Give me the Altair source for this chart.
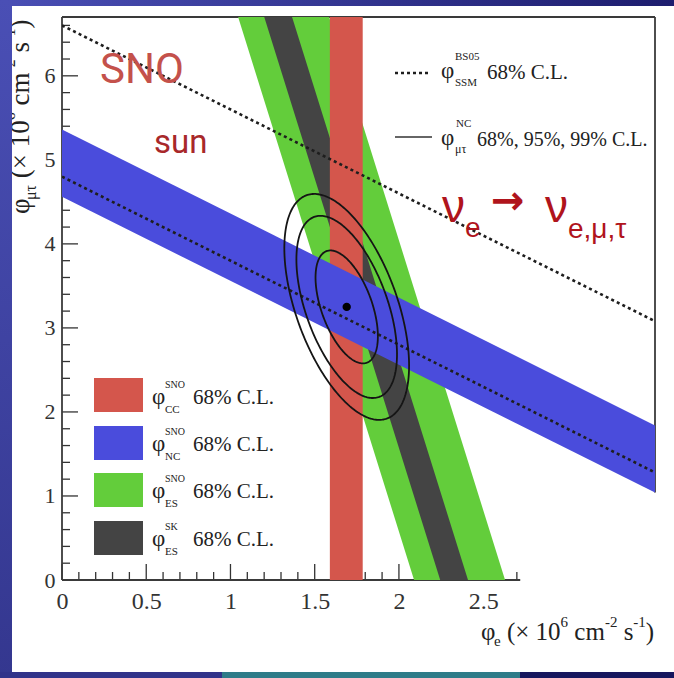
import math
import altair as alt
import numpy as np
import pandas as pd

# ---------------- data ----------------
X_LABEL_VALUES = [0, 0.5, 1, 1.5, 2, 2.5]
Y_LABEL_VALUES = [0, 1, 2, 3, 4, 5, 6]
X_MAX = 3.52
Y_MAX = 6.70
X_AXIS_END = 2.72

CC_BAND = [1.59, 1.785]          # phi_CC (SNO) 68% C.L. on phi_e
NC_BAND = [4.56, 5.36]           # phi_NC (SNO) 68% C.L. : phi_e + phi_mutau
ES_SNO_BAND = [2.09, 2.63]       # phi_ES (SNO) : phi_e + w*phi_mutau
ES_SK_BAND = [2.245, 2.41]       # phi_ES (SK)
SSM_BOUNDS = [4.80, 6.60]        # BS05 SSM 68% C.L.
ES_MUTAU_WEIGHT = 0.1559
BEST_FIT = [1.69, 3.25]
FIT_SIGMA = [0.122, 0.443]
FIT_RHO = -0.52
CL_DCHI2 = [2.30, 5.99, 9.21]    # 68%, 95%, 99% C.L.

LEGEND_SUP = ["SNO", "SNO", "SNO", "SK"]
LEGEND_SUB = ["CC", "NC", "ES", "ES"]
BAND_COLORS = ["#d4564c", "#4a4cdc", "#63cd3b", "#444444"]

# ---------------- layout ----------------
W, H = 593, 563
OX, OY = 62, 17
SERIF = "'Liberation Serif', 'Times New Roman', Times, serif"


def px2x(ax):
    return (ax - OX) / W * X_MAX


def py2y(ay):
    return (OY + H - ay) / H * Y_MAX


xs = alt.Scale(domain=[0, X_MAX], nice=False, zero=False)
ys = alt.Scale(domain=[0, Y_MAX], nice=False, zero=False)
x_axis = alt.Axis(values=X_LABEL_VALUES, labelExpr="'' + datum.value", ticks=False, domain=False,
                  grid=False, labelFont=SERIF, labelFontSize=24, labelColor="#333333",
                  labelPadding=9, labelFlush=False, labelOverlap=False)
y_axis = alt.Axis(values=Y_LABEL_VALUES, labelExpr="'' + datum.value", ticks=False, domain=False,
                  grid=False, labelFont=SERIF, labelFontSize=22, labelColor="#333333",
                  labelPadding=7, labelFlush=False, labelOverlap=False)


def X(f):
    return alt.X(f, type="quantitative", scale=xs, axis=x_axis, title=None)


def Y(f):
    return alt.Y(f, type="quantitative", scale=ys, axis=y_axis, title=None)


layers = []

# ---- ticks (inward) ----
xmaj = pd.DataFrame({"x": X_LABEL_VALUES, "y0": 0.0})
xmin_vals = [round(0.1 * i, 1) for i in range(0, 28) if i % 5 != 0]
xmin = pd.DataFrame({"x": xmin_vals, "y0": 0.0})
ymaj = pd.DataFrame({"y": Y_LABEL_VALUES, "x0": 0.0})
ymin_vals = [round(0.2 * i, 1) for i in range(0, 34) if i % 5 != 0]
ymin = pd.DataFrame({"y": ymin_vals, "x0": 0.0})
for df, ln in [(xmaj, 16), (xmin, 8)]:
    layers.append(alt.Chart(df).mark_rule(color="#333333", strokeWidth=1.3, y2Offset=-ln)
                  .encode(x=X("x"), y=Y("y0"), y2=alt.Y2("y0")))
for df, ln in [(ymaj, 16), (ymin, 8)]:
    layers.append(alt.Chart(df).mark_rule(color="#333333", strokeWidth=1.3, x2Offset=ln)
                  .encode(y=Y("y"), x=X("x0"), x2=alt.X2("x0")))

# ---- frame ----
frame = pd.DataFrame({
    "x": [0, 0, X_MAX, 0],
    "x2": [0, X_MAX, X_MAX, X_AXIS_END],
    "y": [0, Y_MAX, NC_BAND[0] - X_MAX, 0],
    "y2": [Y_MAX, Y_MAX, Y_MAX, 0],
})
layers.append(alt.Chart(frame).mark_rule(color="#3a3a3a", strokeWidth=1.8)
              .encode(x=X("x"), x2=alt.X2("x2"), y=Y("y"), y2=alt.Y2("y2")))

# ---- ES bands (steep) ----
yy = [0.0, Y_MAX]
for band, col in [(ES_SNO_BAND, BAND_COLORS[2]), (ES_SK_BAND, BAND_COLORS[3])]:
    df = pd.DataFrame({"y": yy,
                       "lo": [band[0] - ES_MUTAU_WEIGHT * v for v in yy],
                       "hi": [band[1] - ES_MUTAU_WEIGHT * v for v in yy]})
    layers.append(alt.Chart(df).mark_area(orient="horizontal", color=col, clip=True)
                  .encode(y=Y("y"), x=X("lo"), x2=alt.X2("hi")))

# ---- CC band ----
cc = pd.DataFrame({"lo": [CC_BAND[0]], "hi": [CC_BAND[1]], "y0": [0.0], "y1": [Y_MAX]})
layers.append(alt.Chart(cc).mark_rect(color=BAND_COLORS[0])
              .encode(x=X("lo"), x2=alt.X2("hi"), y=Y("y0"), y2=alt.Y2("y1")))

# ---- NC band ----
xx = [0.0, X_MAX]
nc = pd.DataFrame({"x": xx, "lo": [NC_BAND[0] - v for v in xx], "hi": [NC_BAND[1] - v for v in xx]})
layers.append(alt.Chart(nc).mark_area(color=BAND_COLORS[1], clip=True)
              .encode(x=X("x"), y=Y("lo"), y2=alt.Y2("hi")))

# ---- SSM dotted lines ----
ssm = pd.DataFrame({"x": xx * 2, "y": [SSM_BOUNDS[0] - v for v in xx] + [SSM_BOUNDS[1] - v for v in xx],
                    "k": ["lo", "lo", "hi", "hi"]})
layers.append(alt.Chart(ssm).mark_line(color="#1e1e1e", strokeWidth=2.6, strokeDash=[3, 3.2], clip=True)
              .encode(x=X("x"), y=Y("y"), detail="k:N"))

# ---- mu-tau contours ----
rows = []
t = np.linspace(0, 2 * math.pi, 241)
for lvl in CL_DCHI2:
    k = math.sqrt(lvl)
    ex = BEST_FIT[0] + k * FIT_SIGMA[0] * np.cos(t)
    ey = BEST_FIT[1] + k * FIT_SIGMA[1] * (FIT_RHO * np.cos(t) + math.sqrt(1 - FIT_RHO ** 2) * np.sin(t))
    for i, (a, b) in enumerate(zip(ex, ey)):
        rows.append({"x": float(a), "y": float(b), "i": i, "lvl": lvl})
layers.append(alt.Chart(pd.DataFrame(rows)).mark_line(color="#151515", strokeWidth=1.8)
              .encode(x=X("x"), y=Y("y"), order="i:Q", detail="lvl:N"))
layers.append(alt.Chart(pd.DataFrame({"x": [BEST_FIT[0]], "y": [BEST_FIT[1]]}))
              .mark_point(filled=True, size=70, color="black", opacity=1)
              .encode(x=X("x"), y=Y("y")))

# ---- lower-left legend swatches ----
sw_top = [378, 426, 473, 521]
sw = pd.DataFrame({"x": [px2x(94)] * 4, "x2": [px2x(143)] * 4,
                   "y": [py2y(v) for v in sw_top], "y2": [py2y(v + 34) for v in sw_top],
                   "c": BAND_COLORS})
layers.append(alt.Chart(sw).mark_rect()
              .encode(x=X("x"), x2=alt.X2("x2"), y=Y("y"), y2=alt.Y2("y2"),
                      color=alt.Color("c:N", scale=None)))

# ---- top-right legend line samples ----
one = pd.DataFrame({"a": [1]})
layers.append(alt.Chart(one).mark_rule(color="#1e1e1e", strokeWidth=2.4, strokeDash=[3, 3])
              .encode(x=alt.value(395 - OX), x2=alt.value(430 - OX), y=alt.value(73 - OY)))
layers.append(alt.Chart(one).mark_rule(color="#333333", strokeWidth=1.4)
              .encode(x=alt.value(395 - OX), x2=alt.value(432 - OX), y=alt.value(137 - OY)))

# ---- texts ----
TW = {' ': .25, '(': .333, ')': .333, '×': .564, 'c': .444, 'm': .778, 's': .389, '-': .333,
      'φ': .52, 'μ': .5, 'τ': .44, 'e': .444}


def tw(s, size):
    return sum(TW.get(ch, .5) for ch in s) * size


def run(parts, x0, y0, rotated=False):
    """Lay out text pieces one after another (leading spaces become offsets)."""
    out = []
    pos = 0.0
    for s, size, shift in parts:
        lead = len(s) - len(s.lstrip(" "))
        pos += tw(" " * lead, size)
        s = s.lstrip(" ")
        if rotated:
            out.append((s, x0 + shift, y0 - pos, size, 270))
        else:
            out.append((s, x0 + pos, y0 + shift, size, 0))
        pos += tw(s, size)
    return out


serif_items = []
# top-right legend
serif_items += [("φ", 441, 78, 23, 0), ("BS05", 455, 60, 11, 0), ("SSM", 455, 86, 11, 0),
                ("68% C.L.", 487, 79, 21, 0),
                ("φ", 441, 145, 23, 0), ("NC", 456, 127, 11, 0), ("μτ", 455, 153, 12, 0),
                ("68%, 95%, 99% C.L.", 477, 146, 20, 0)]
# lower-left legend
for cy, sup, sub in zip([395.5, 442.5, 490, 538], LEGEND_SUP, LEGEND_SUB):
    serif_items += [("φ", 152, cy + 8, 23, 0), (sup, 165, cy - 8, 10, 0), (sub, 165, cy + 17, 11, 0),
                    ("68% C.L.", 193, cy + 8, 21, 0)]
title_parts = [("φ", 25, 0), ("e", 15, 6), (" (× 10", 25, 0), ("6", 15, -13), (" cm", 25, 0),
               ("-2", 15, -13), (" s", 25, 0), ("-1", 15, -13), (")", 25, 0)]
serif_items += run(title_parts, 481, 640)
ytitle_parts = [("φ", 27, 0), ("μτ", 16, 7), (" (× 10", 27, 0), ("6", 16, -14), (" cm", 27, 0),
                ("-2", 16, -14), (" s", 27, 0), ("-1", 16, -14), (")", 27, 0)]
serif_items += run(ytitle_parts, 29, 214, rotated=True)


def text_df(items, color):
    return pd.DataFrame({"x": [px2x(a[1]) for a in items], "y": [py2y(a[2]) for a in items],
                         "t": [a[0] for a in items], "s": [a[3] for a in items],
                         "ang": [a[4] for a in items], "c": color})


def text_layer(df, font, weight="normal"):
    return alt.Chart(df).mark_text(align="left", baseline="alphabetic", font=font, fontWeight=weight).encode(
        x=X("x"), y=Y("y"), text="t:N", size=alt.Size("s:Q", scale=None),
        angle=alt.Angle("ang:Q", scale=None), color=alt.Color("c:N", scale=None))


layers.append(text_layer(text_df(serif_items, "#222222"), SERIF))
layers.append(text_layer(text_df([("SNO", 100, 83, 42, 0)], "#c4514b"), "Roboto, 'Liberation Sans'"))
layers.append(text_layer(text_df([("sun", 154, 153, 33, 0)], "#a8282a"), "Roboto, 'Liberation Sans'"))
nu_items = [("ν", 442, 222, 46, 0), ("e", 465, 237, 28, 0), ("ν", 545, 222, 46, 0), ("e,μ,τ", 568, 238, 28, 0)]
layers.append(text_layer(text_df(nu_items, "#b0141c"), "'Liberation Sans'"))
layers.append(text_layer(text_df([("→", 491, 214, 40, 0)], "#b0141c"), "'DejaVu Sans'", "bold"))

# ---- slide chrome ----
left_grad = {"gradient": "linear", "x1": 0, "x2": 0, "y1": 0, "y2": 1,
             "stops": [{"offset": 0, "color": "#4a4fb5"}, {"offset": 1, "color": "#34378f"}]}
top_grad = {"gradient": "linear", "x1": 0, "x2": 1, "y1": 0, "y2": 0,
            "stops": [{"offset": 0, "color": "#4a4fb5"}, {"offset": 1, "color": "#1d1d6e"}]}


def chrome(x0, x1, y0, y1, color):
    return alt.Chart(one).mark_rect(color=color).encode(
        x=alt.value(x0 - OX), x2=alt.value(x1 - OX), y=alt.value(y0 - OY), y2=alt.value(y1 - OY))


layers.append(chrome(0, 674, 0, 6, top_grad))
layers.append(chrome(0, 12, 0, 678, left_grad))
layers.append(chrome(0, 222, 672, 678, "#31338a"))
layers.append(chrome(222, 520, 672, 678, "#2e7b88"))
layers.append(chrome(520, 674, 672, 678, "#16165e"))

chart = alt.layer(*layers).properties(
    width=W, height=H, autosize="none",
    padding={"left": OX, "top": OY, "right": 674 - OX - W, "bottom": 678 - OY - H},
    background="white",
).configure_view(stroke=None)

chart.save("out.html", embed_options={"renderer": "svg", "actions": False})
